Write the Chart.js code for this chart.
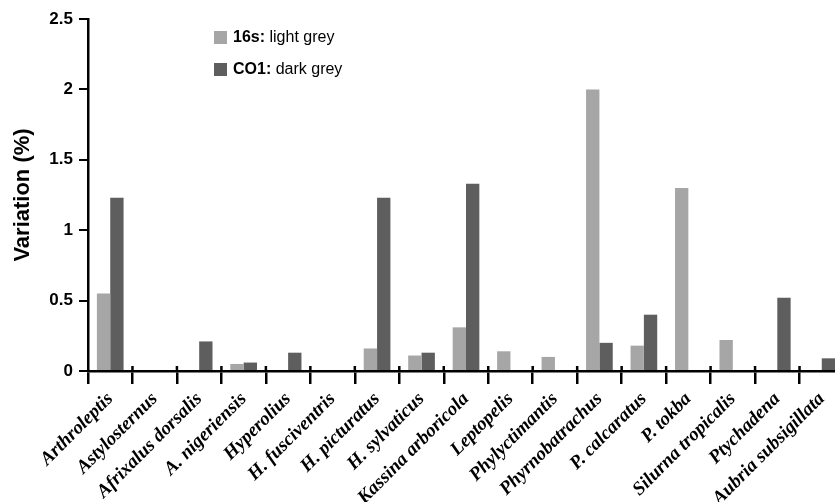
<!DOCTYPE html>
<html>
<head>
<meta charset="utf-8">
<script src="https://cdn.jsdelivr.net/npm/chart.js@4/dist/chart.umd.min.js"></script>
<style>
html,body{margin:0;padding:0;background:#fff;overflow:hidden;}
#wrap{position:relative;width:844px;height:502px;}
</style>
</head>
<body>
<div id="wrap"><canvas id="c"></canvas></div>
<script>
const categories = ["Arthroleptis","Astylosternus","Afrixalus dorsalis","A. nigeriensis","Hyperolius","H. fusciventris","H. picturatus","H. sylvaticus","Kassina arboricola","Leptopelis","Phylyctimantis","Phyrnobatrachus","P. calcaratus","P. tokba","Silurna tropicalis","Ptychadena","Aubria subsigillata"];
const s16 = [0.55,0,0,0.05,0,0,0.16,0.11,0.31,0.14,0.10,2.0,0.18,1.30,0.22,0,0];
const co1 = [1.23,0,0.21,0.06,0.13,0,1.23,0.13,1.33,0,0,0.20,0.40,0,0,0.52,0.09];
const yTicks = [0,0.5,1,1.5,2,2.5];
const legendItems = [
  {bold:"16s:", rest:" light grey", color:"#a6a6a6"},
  {bold:"CO1:", rest:" dark grey", color:"#5e5e5e"}
];

const legendPlugin = {
  id:'customLegend',
  afterDraw(chart){
    const ctx = chart.ctx;
    ctx.save();
    legendItems.forEach((it,i)=>{
      const y = 37 + i*32;
      ctx.fillStyle = it.color;
      ctx.fillRect(214, y-6, 13, 13);
      ctx.fillStyle = '#000';
      ctx.textBaseline = 'middle';
      ctx.font = 'bold 16px "Liberation Sans", Arial, sans-serif';
      ctx.fillText(it.bold, 233, y+1);
      const w = ctx.measureText(it.bold).width;
      ctx.font = '16px "Liberation Sans", Arial, sans-serif';
      ctx.fillText(it.rest, 233+w, y+1);
    });
    ctx.restore();
  }
};

// short tick stubs above the x axis at category boundaries (continuation of the axis ticks)
const tickStubPlugin = {
  id:'tickStubs',
  afterDraw(chart){
    const xs = chart.scales.x, ctx = chart.ctx;
    const n = categories.length;
    const half = (xs.getPixelForValue(1) - xs.getPixelForValue(0)) / 2;
    ctx.save();
    ctx.strokeStyle = '#000';
    ctx.lineWidth = 2.5;
    ctx.beginPath();
    for (let i = 1; i <= n; i++) {
      const x = xs.getPixelForValue(i - 1) + half;
      ctx.moveTo(x, xs.top - 5);
      ctx.lineTo(x, xs.top);
    }
    ctx.stroke();
    ctx.restore();
  }
};

new Chart(document.getElementById('c'), {
  type:'bar',
  data:{
    labels:categories,
    datasets:[
      {label:'16s', data:s16, backgroundColor:'#a6a6a6', categoryPercentage:0.6, barPercentage:1.0},
      {label:'CO1', data:co1, backgroundColor:'#5e5e5e', categoryPercentage:0.6, barPercentage:1.0}
    ]
  },
  options:{
    responsive:true,
    maintainAspectRatio:false,
    animation:false,
    layout:{padding:{top:19,right:0,left:0,bottom:0}},
    plugins:{legend:{display:false}, tooltip:{enabled:false}},
    scales:{
      x:{
        border:{color:'#000', width:2.5},
        grid:{drawOnChartArea:false, drawTicks:true, tickLength:13, color:'#000', lineWidth:2.5, offset:true},
        ticks:{
          color:'#000', minRotation:45, maxRotation:45, autoSkip:false, padding:4,
          font:{family:'"Liberation Serif", "Times New Roman", serif', size:19, style:'italic', weight:'bold'}
        },
        afterFit(s){ s.height = 131; }
      },
      y:{
        min:0, max:2.5,
        border:{color:'#000', width:2.5},
        grid:{drawOnChartArea:false, drawTicks:true, tickLength:9, color:'#000', lineWidth:2},
        afterBuildTicks(s){ s.ticks = yTicks.map(v=>({value:v})); },
        ticks:{
          color:'#000', padding:6,
          callback:(v)=>String(v),
          font:{family:'"Liberation Sans", Arial, sans-serif', size:17, weight:'bold'}
        },
        title:{display:true, text:'Variation (%)', color:'#000', padding:{top:10,bottom:8},
          font:{family:'"Liberation Sans", Arial, sans-serif', size:22, weight:'bold'}},
        afterFit(s){ s.width = 88; }
      }
    }
  },
  plugins:[legendPlugin, tickStubPlugin]
});
</script>
</body>
</html>
